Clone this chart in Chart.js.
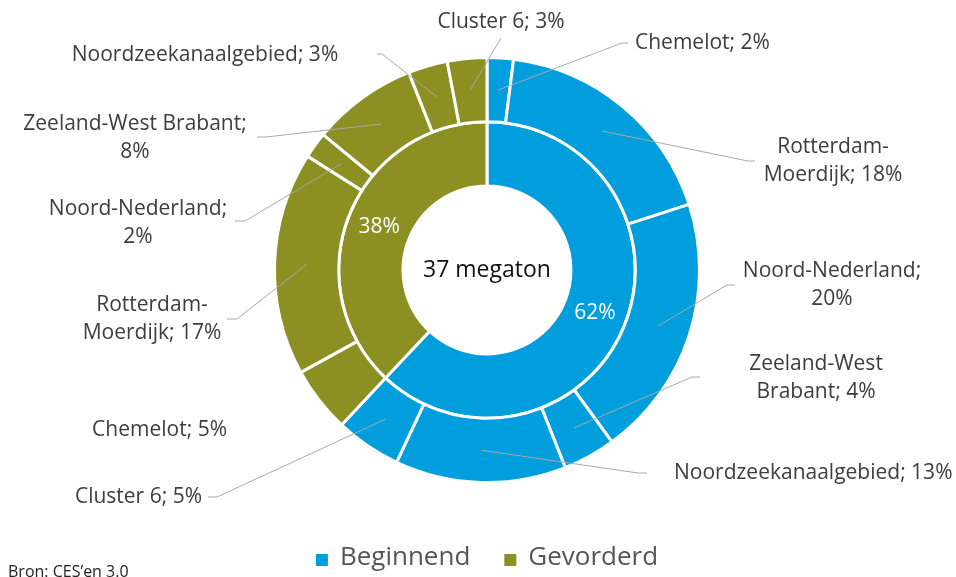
<!DOCTYPE html>
<html>
<head>
<meta charset="utf-8">
<title>CES'en 3.0 - 37 megaton</title>
<script src="https://cdn.jsdelivr.net/npm/chart.js@4.4.1/dist/chart.umd.min.js"></script>
<style>
  html, body { margin: 0; padding: 0; background: #fff; }
  #wrap { position: relative; width: 956px; height: 577px; }
</style>
</head>
<body>
<div id="wrap"><canvas id="donut"></canvas></div>
<script>
// data
const clusters = ['Chemelot', 'Rotterdam-Moerdijk', 'Noord-Nederland', 'Zeeland-West Brabant', 'Noordzeekanaalgebied', 'Cluster 6'];
const beginnend = [2, 18, 20, 4, 13, 5];
const gevorderd = [5, 17, 2, 8, 3, 3];
const phases = ['Beginnend', 'Gevorderd'];
const phaseShare = [62, 38];
const centerText = '37 megaton';
const sourceText = 'Bron: CES\u2019en 3.0';

const blue = '#009EDC';
const olive = '#8C9023';
const font = "'Open Sans', 'Noto Sans', sans-serif";

// where the outside labels go (outer ring order: beginnend then gevorderd)
const labelSpots = [
    { x: 635, y: 43, align: 'left', elbow: [622, 43], end: [628, 43] },
    { x: 833, y: 147, brk: '-', elbow: [748, 161], end: [755, 161] },
    { x: 832, y: 271, brk: ';', elbow: [727, 285], end: [735, 285] },
    { x: 816, y: 364, brk: 'West', elbow: [692, 377], end: [700, 377] },
    { x: 674, y: 473, align: 'left', elbow: [638, 473], end: [647, 473] },
    { x: 202, y: 497, align: 'right', elbow: [217, 497], end: [208, 497] },
    { x: 227, y: 430, align: 'right' },
    { x: 152, y: 305, brk: '-', elbow: [237, 319], end: [227, 319] },
    { x: 138, y: 209, brk: ';', elbow: [245, 221], end: [235, 221] },
    { x: 135, y: 124, brk: ';', elbow: [266, 137], end: [257, 137] },
    { x: 205, y: 55, elbow: [382, 54], end: [377, 54] },
    { x: 501, y: 22, elbow: [501, 38], end: [501, 38] }
];

function splitLabel(text, brk) {
    if (!brk) return [text];
    const i = text.indexOf(brk) + brk.length;
    return [text.slice(0, i).trim(), text.slice(i).trim()];
}

const outerValues = beginnend.concat(gevorderd);
const outerLabels = clusters.concat(clusters);
const outerColors = beginnend.map(() => blue).concat(gevorderd.map(() => olive));

const ringLabels = {
    id: 'ringLabels',
    afterDraw(chart) {
        const ctx = chart.ctx;
        const outer = chart.getDatasetMeta(0).data;
        const inner = chart.getDatasetMeta(1).data;
        ctx.save();

        // leader lines
        ctx.strokeStyle = '#a8a8a8';
        ctx.lineWidth = 1;
        outer.forEach((arc, i) => {
            const s = labelSpots[i];
            if (!s.elbow) return;
            const p = arc.tooltipPosition();
            ctx.beginPath();
            ctx.moveTo(p.x, p.y);
            ctx.lineTo(s.elbow[0], s.elbow[1]);
            ctx.lineTo(s.end[0], s.end[1]);
            ctx.stroke();
        });

        // outside labels
        ctx.fillStyle = '#3d3d3d';
        ctx.font = '21px ' + font;
        ctx.textBaseline = 'middle';
        outer.forEach((arc, i) => {
            const s = labelSpots[i];
            const text = outerLabels[i] + '; ' + outerValues[i] + '%';
            ctx.textAlign = s.align || 'center';
            splitLabel(text, s.brk).forEach((line, k) => {
                ctx.fillText(line, s.x, s.y + k * 28);
            });
        });

        // inner ring shares
        ctx.fillStyle = '#ffffff';
        ctx.textAlign = 'center';
        ctx.font = '21px ' + font;
        inner.forEach((arc, i) => {
            const p = arc.tooltipPosition();
            ctx.fillText(phaseShare[i] + '%', p.x, p.y);
        });

        // center text
        const c = outer[0];
        ctx.fillStyle = '#111111';
        ctx.font = '23px ' + font;
        ctx.fillText(centerText, c.x, c.y);

        // legend
        ctx.font = '26px ' + font;
        const sq = 12, gap = 12, between = 34;
        const widths = phases.map(p => ctx.measureText(p).width);
        const total = widths.reduce((a, w) => a + sq + gap + w, 0) + between;
        let x = c.x - total / 2;
        const ly = 558;
        phases.forEach((p, i) => {
            ctx.fillStyle = i === 0 ? blue : olive;
            ctx.fillRect(x, ly + 2 - sq / 2, sq, sq);
            x += sq + gap;
            ctx.fillStyle = '#555555';
            ctx.textAlign = 'left';
            ctx.fillText(p, x, ly);
            x += widths[i] + between;
        });

        // source, cut off at the bottom edge like the original
        ctx.fillStyle = '#222222';
        ctx.font = '16px ' + font;
        ctx.textAlign = 'left';
        ctx.textBaseline = 'alphabetic';
        ctx.fillText(sourceText, 8, 577);

        ctx.restore();
    }
};

new Chart(document.getElementById('donut'), {
    type: 'doughnut',
    data: {
        labels: outerLabels,
        datasets: [{
            label: 'Cluster',
            data: outerValues,
            backgroundColor: outerColors,
            borderColor: '#ffffff',
            borderWidth: 3
        }, {
            label: 'Fase',
            data: phaseShare,
            backgroundColor: [blue, olive],
            borderColor: '#ffffff',
            borderWidth: 3
        }]
    },
    options: {
        responsive: true,
        maintainAspectRatio: false,
        animation: false,
        cutout: '39.5%',
        layout: {
            padding: { top: 56, bottom: 93, left: 100, right: 82 }
        },
        plugins: {
            legend: { display: false },
            tooltip: { enabled: false }
        }
    },
    plugins: [ringLabels]
});
</script>
</body>
</html>
